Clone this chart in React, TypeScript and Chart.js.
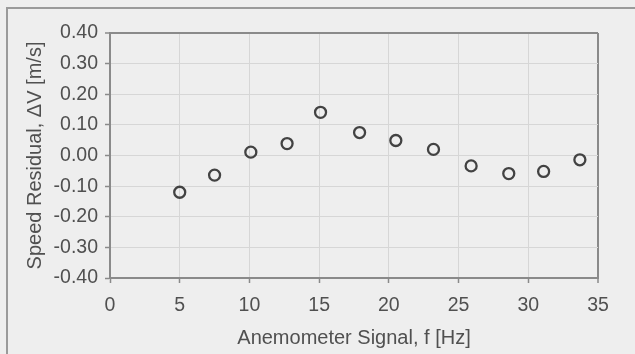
import React, { useEffect, useRef } from "react";
import { Chart, registerables } from "chart.js";

Chart.register(...registerables);

const signalHz = [5.0, 7.5, 10.1, 12.7, 15.1, 17.9, 20.5, 23.2, 25.9, 28.6, 31.1, 33.7];
const residuals = [-0.12, -0.064, 0.011, 0.039, 0.141, 0.075, 0.049, 0.02, -0.034, -0.059, -0.052, -0.014];
const xTitle = "Anemometer Signal, f [Hz]";
const yTitle = "Speed Residual, ΔV [m/s]";

const FONT = "'Liberation Sans', Arial, sans-serif";
const TEXT = "#505050";

export default function App() {
  const ref = useRef<HTMLCanvasElement | null>(null);

  useEffect(() => {
    if (!ref.current) return;
    const chart = new Chart(ref.current, {
      type: "scatter",
      data: {
        datasets: [
          {
            data: signalHz.map((x, i) => ({ x, y: residuals[i] })),
            pointStyle: "circle",
            pointRadius: 5.5,
            pointHoverRadius: 5.5,
            pointBorderWidth: 2.3,
            borderColor: "#424242",
            backgroundColor: "rgba(0,0,0,0)",
          },
        ],
      },
      options: {
        animation: false,
        responsive: true,
        maintainAspectRatio: false,
        layout: { padding: { left: 0, top: 33, right: 37, bottom: 0 } },
        plugins: { legend: { display: false }, tooltip: { enabled: false } },
        scales: {
          x: {
            type: "linear",
            min: 0,
            max: 35,
            afterFit: (s: any) => {
              s.height = 76;
            },
            ticks: {
              stepSize: 5,
              color: TEXT,
              font: { family: FONT, size: 19.5 },
              padding: 11,
            },
            grid: {
              color: (c: any) => (c.tick && c.tick.value === 35 ? "#8a8a8a" : "#d6d6d6"),
              lineWidth: (c: any) => (c.tick && c.tick.value === 35 ? 2 : 1),
              tickColor: "#8a8a8a",
              tickLength: 5,
              tickWidth: 1.5,
            },
            border: { color: "#8a8a8a", width: 2 },
            title: {
              display: true,
              text: xTitle,
              color: TEXT,
              font: { family: FONT, size: 20 },
              padding: { top: 0, bottom: 4 },
            },
          },
          y: {
            type: "linear",
            min: -0.4,
            max: 0.4,
            afterFit: (s: any) => {
              s.width = 110;
            },
            ticks: {
              stepSize: 0.1,
              color: TEXT,
              font: { family: FONT, size: 19.5 },
              padding: 7,
              callback: (v: any) => Number(v).toFixed(2),
            },
            grid: {
              color: (c: any) => (c.tick && Math.abs(c.tick.value - 0.4) < 1e-6 ? "#8a8a8a" : "#d6d6d6"),
              lineWidth: (c: any) => (c.tick && Math.abs(c.tick.value - 0.4) < 1e-6 ? 2 : 1),
              tickColor: "#8a8a8a",
              tickLength: 5,
              tickWidth: 1.5,
            },
            border: { color: "#8a8a8a", width: 2 },
            title: {
              display: true,
              text: yTitle,
              color: TEXT,
              font: { family: FONT, size: 20 },
              padding: { top: 23, bottom: 0 },
            },
          },
        },
      },
    });
    return () => chart.destroy();
  }, []);

  return (
    <div
      style={{
        position: "fixed",
        left: 0,
        top: 0,
        width: 635,
        height: 354,
        background: "#eeeeee",
        overflow: "hidden",
      }}
    >
      <div
        style={{
          position: "absolute",
          left: 6,
          top: 7,
          right: -10,
          bottom: -10,
          borderTop: "2px solid #9a9a9a",
          borderLeft: "2px solid #9a9a9a",
        }}
      />
      <div style={{ position: "absolute", left: 0, top: 0, width: 635, height: 354 }}>
        <canvas ref={ref} />
      </div>
    </div>
  );
}
